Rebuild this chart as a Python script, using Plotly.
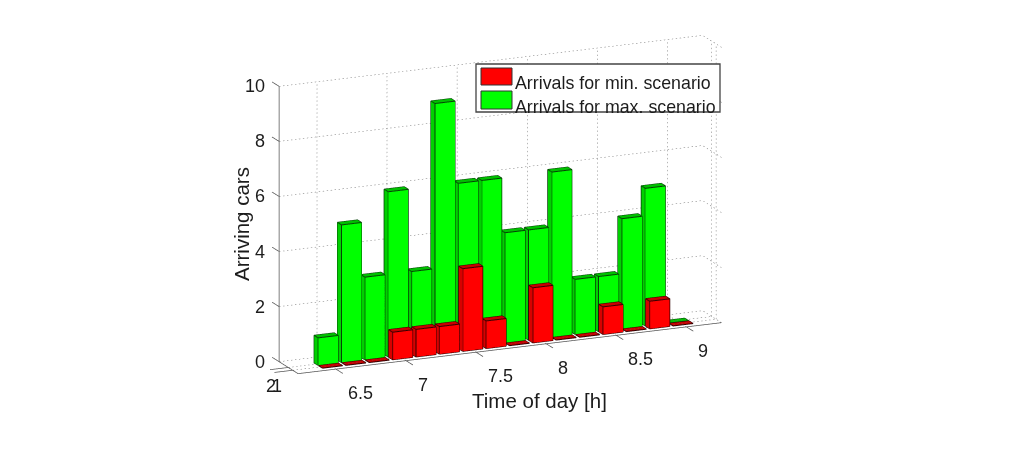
import math
import plotly.graph_objects as go

times = [6.5 + i / 6 for i in range(16)]
arrivals_min = [0, 0, 0, 1, 1, 1, 3, 1, 0, 2, 0, 0, 1, 0, 1, 0]
arrivals_max = [1, 5, 3, 6, 3, 9, 6, 6, 4, 4, 6, 2, 2, 4, 5, 0]
x_ticks = [6.5, 7, 7.5, 8, 8.5, 9]
y_ticks = [1, 2]
z_ticks = [0, 2, 4, 6, 8, 10]
XR, YR, ZR = [6.23, 9.25], [-0.23, 4.09], [0, 10]
SCENE_X, SCENE_Y = [6.05, 9.27], [-1.85, 5.75]
HW, HD = 0.0715, 0.46
FONT = "Liberation Sans"
INK = "#1c1c1c"
# pixels on screen per unit of each data axis
PX = (140.4, -16.8), (-4.4, -2.78), (0, -27.6)


def bars(values, row, front, side, top, edge_color):
    X, Y, Z, I, J, K, FC = [], [], [], [], [], [], []
    ex, ey, ez = [], [], []
    for t, v in zip(times, values):
        n = len(X)
        xs = [t - HW, t + HW]
        ys = [row - HD, row + HD]
        for zz in (0, v):
            for yy in ys:
                for xx in xs:
                    X.append(xx); Y.append(yy); Z.append(zz)
        quads = [((0, 1, 5, 4), front), ((0, 2, 6, 4), side), ((4, 5, 7, 6), top)]
        for q, c in quads:
            a, b, cc, d = [n + p for p in q]
            I += [a, a]; J += [b, cc]; K += [cc, d]; FC += [c, c]
        for path in [(0, 1, 5, 4, 0), (0, 2, 6, 4), (4, 5, 7, 6), (5, 7)]:
            for p in path:
                ex.append(X[n + p]); ey.append(Y[n + p]); ez.append(Z[n + p])
            ex.append(None); ey.append(None); ez.append(None)
    mesh = go.Mesh3d(x=X, y=Y, z=Z, i=I, j=J, k=K, facecolor=FC, flatshading=True,
                     lighting=dict(ambient=1, diffuse=0, specular=0, fresnel=0),
                     hoverinfo="skip", showscale=False)
    edge = go.Scatter3d(x=ex, y=ey, z=ez, mode="lines", hoverinfo="skip",
                        line=dict(color=edge_color, width=2), showlegend=False)
    return [mesh, edge]


def lines(segs, color, width):
    gx, gy, gz = [], [], []
    for a, b in segs:
        for p in (a, b):
            gx.append(p[0]); gy.append(p[1]); gz.append(p[2])
        gx.append(None); gy.append(None); gz.append(None)
    return go.Scatter3d(x=gx, y=gy, z=gz, mode="lines", hoverinfo="skip", showlegend=False,
                        line=dict(color=color, width=width))


def dotted(a, b, pitch=4.0, dot=1.4):
    """Break one grid line into short dashes of a few pixels."""
    d = [q - p for p, q in zip(a, b)]
    sx = sum(d[i] * PX[i][0] for i in range(3))
    sy = sum(d[i] * PX[i][1] for i in range(3))
    length = math.hypot(sx, sy)
    out = []
    for n in range(int(length / pitch) + 1):
        f0 = n * pitch / length
        f1 = min(1, (n * pitch + dot) / length)
        out.append(([p + f0 * u for p, u in zip(a, d)], [p + f1 * u for p, u in zip(a, d)]))
    return out


x0, x1 = XR
y0, y1 = YR
z1 = ZR[1]
g = []
for z in z_ticks:
    g += dotted((x0, y1, z), (x1, y1, z)) + dotted((x1, y0, z), (x1, y1, z))
for x in x_ticks:
    g += dotted((x, y1, 0), (x, y1, z1)) + dotted((x, y0, 0), (x, y1, 0))
for y in y_ticks:
    g += dotted((x1, y, 0), (x1, y, z1)) + dotted((x0, y, 0), (x1, y, 0))
grid = lines(g, "#707070", 1)

frame = [((x0, y1, 0), (x0, y1, z1)), ((x0, y0, 0), (x1, y0, 0)), ((x0, y0, 0), (x0, y1, 0))]
frame += [((x0, y1, z), (x0, y1 + 1.6, z)) for z in z_ticks]
frame += [((x, y0, 0), (x, y0 - 1.55, 0)) for x in x_ticks]
frame += [((x0, y, 0), (x0 - 0.13, y, 0)) for y in y_ticks]
axes_lines = lines(frame, "#555555", 1.5)

fig = go.Figure([grid, axes_lines]
                + bars(arrivals_max, 2, "#00ff00", "#00d000", "#00c000", "#064006")
                + bars(arrivals_min, 1, "#ff0000", "#d80000", "#c80000", "#300000"))

a, e = math.radians(23.6), math.radians(16)
k = 1.6
S = 1.262
asp = dict(x=S * 1.613 * (SCENE_X[1] - SCENE_X[0]) / (x1 - x0),
           y=S * 0.1655 * (SCENE_Y[1] - SCENE_Y[0]) / (y1 - y0), z=S)
# look-at point: the data point that sits at the middle of the window
cen = dict(x=(7.824 - sum(SCENE_X) / 2) / (SCENE_X[1] - SCENE_X[0]) * asp["x"], y=0, z=(4.13 - 5) / 10 * S)
axis = dict(showgrid=False, zeroline=False, showbackground=False, showspikes=False,
            showline=False, ticks="", showticklabels=False, title="")

scene_notes = []
tick_font = dict(family=FONT, size=18, color=INK)
for v in x_ticks:
    scene_notes.append(dict(x=v, y=y0, z=0, text=f"{v:g}", showarrow=False, xanchor="left",
                            xshift=10, yshift=-24, font=tick_font))
for v in z_ticks:
    scene_notes.append(dict(x=x0, y=y1, z=v, text=f"{v:g}", showarrow=False, xanchor="right",
                            xshift=-12, yshift=0, font=tick_font))
scene_notes.append(dict(x=x0, y=1, z=0, text="1", showarrow=False, xshift=-16, yshift=-16, font=tick_font))
scene_notes.append(dict(x=x0, y=2, z=0, text="2", showarrow=False, xshift=-17, yshift=-19, font=tick_font))


def fx(px):
    return px / 1024


def fy(px):
    return 1 - px / 454


def box(l, t, r, b, fill, line, w=1):
    return dict(type="rect", xref="paper", yref="paper", x0=fx(l), x1=fx(r), y0=fy(b), y1=fy(t),
                fillcolor=fill, line=dict(color=line, width=w))


def note(text, px, py, size, anchor="center", angle=0):
    return dict(text=text, x=fx(px), y=fy(py), xref="paper", yref="paper", xanchor=anchor, yanchor="middle",
                textangle=angle, showarrow=False, font=dict(family=FONT, size=size, color=INK))


fig.update_layout(
    width=1024, height=454, margin=dict(l=0, r=0, t=0, b=0), paper_bgcolor="white",
    showlegend=False,
    scene=dict(
        xaxis=dict(axis, range=SCENE_X),
        yaxis=dict(axis, range=SCENE_Y),
        zaxis=dict(axis, range=[ZR[0] - 0.001, ZR[1] + 0.001]),
        aspectmode="manual", aspectratio=asp,
        camera=dict(eye=dict(x=cen["x"] - k * math.sin(a) * math.cos(e),
                             y=cen["y"] - k * math.cos(a) * math.cos(e),
                             z=cen["z"] + k * math.sin(e)),
                    up=dict(x=0, y=0, z=1), center=cen,
                    projection=dict(type="orthographic")),
        annotations=scene_notes,
    ),
    shapes=[box(476, 64, 720, 112, "white", "#444444", 1.3),
            box(481, 68, 512, 85, "#ff0000", "#333333"),
            box(481, 91, 512, 109, "#00ff00", "#333333")],
    annotations=[
        note("Time of day [h]", 539, 400, 20.5),
        note("Arriving cars", 241, 224, 20.5, angle=-90),
        note("Arrivals for min. scenario", 513, 83, 17.8, "left"),
        note("Arrivals for max. scenario", 513, 107, 17.8, "left"),
    ],
)
fig.write_html("out.html", post_script="document.body.style.margin='0';",
               config=dict(displayModeBar=False))
